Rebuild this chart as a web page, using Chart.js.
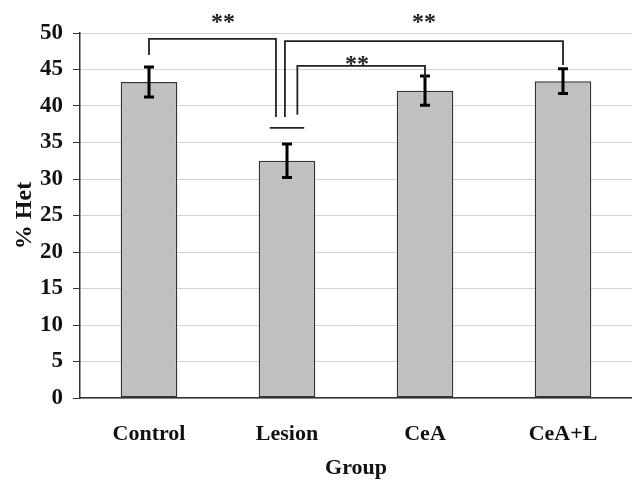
<!DOCTYPE html>
<html>
<head>
<meta charset="utf-8">
<script src="https://cdn.jsdelivr.net/npm/chart.js@4"></script>
<style>
html,body{margin:0;padding:0;background:#fff;}
#wrap{width:632px;height:484px;position:relative;}
</style>
</head>
<body>
<div id="wrap"><canvas id="c"></canvas></div>
<script>
const categories = ["Control", "Lesion", "CeA", "CeA+L"];
const hctMeans = [43.3, 32.5, 42.1, 43.4];
const hctErrors = [2.05, 2.3, 2.0, 1.7];
const yTicks = [0, 5, 10, 15, 20, 25, 30, 35, 40, 45, 50];
const comparisons = [["Control", "Lesion", "**"], ["Lesion", "CeA+L", "**"], ["Lesion", "CeA", "**"]];

const SERIF = '"Liberation Serif", "Times New Roman", serif';

const overlay = {
  id: 'overlay',
  afterDatasetsDraw(chart) {
    const ctx = chart.ctx;
    const xs = chart.scales.x, ys = chart.scales.y;
    const cw = xs.getPixelForValue(1) - xs.getPixelForValue(0);
    const X = (cat, off) => xs.getPixelForValue(categories.indexOf(cat)) + off * cw;
    const Y = v => ys.getPixelForValue(v);
    ctx.save();
    // error bars
    ctx.strokeStyle = '#000';
    ctx.lineWidth = 3;
    hctMeans.forEach((m, i) => {
      const x = xs.getPixelForValue(i);
      const t = Y(m + hctErrors[i]), b = Y(m - hctErrors[i]);
      ctx.beginPath();
      ctx.moveTo(x, t); ctx.lineTo(x, b);
      ctx.moveTo(x - 5, t); ctx.lineTo(x + 5, t);
      ctx.moveTo(x - 5, b); ctx.lineTo(x + 5, b);
      ctx.stroke();
    });
    // brackets
    ctx.lineWidth = 1.8;
    ctx.strokeStyle = '#222';
    const geo = [
      {lx: 0, ly: 47.0, rx: -0.08, ry: 38.5, h: 49.2, sx: 223, sv: 52.1},
      {lx: -0.015, ly: 38.5, rx: 0, ry: 45.6, h: 48.9, sx: 424, sv: 52.1},
      {lx: 0.075, ly: 38.8, rx: 0, ry: 43.8, h: 45.5, sx: 357, sv: 46.3}
    ];
    comparisons.forEach((c, k) => {
      const g = geo[k];
      const x1 = X(c[0], g.lx), x2 = X(c[1], g.rx);
      ctx.beginPath();
      ctx.moveTo(x1, Y(g.ly)); ctx.lineTo(x1, Y(g.h));
      ctx.lineTo(x2, Y(g.h)); ctx.lineTo(x2, Y(g.ry));
      ctx.stroke();
      ctx.fillStyle = '#222';
      ctx.font = 'bold 24px ' + SERIF;
      ctx.textAlign = 'center';
      ctx.textBaseline = 'middle';
      ctx.fillText(c[2], g.sx, Y(g.sv) + 5);
    });
    // short horizontal line above Lesion
    ctx.beginPath();
    ctx.moveTo(X("Lesion", -0.125), Y(37.0));
    ctx.lineTo(X("Lesion", 0.125), Y(37.0));
    ctx.stroke();
    ctx.restore();
  }
};

new Chart(document.getElementById('c'), {
  type: 'bar',
  data: {
    labels: categories,
    datasets: [{
      data: hctMeans,
      backgroundColor: '#c0c0c0',
      borderColor: '#333',
      borderWidth: 1.5,
      borderSkipped: false,
      categoryPercentage: 1,
      barPercentage: 0.41
    }]
  },
  options: {
    responsive: true,
    maintainAspectRatio: false,
    animation: false,
    devicePixelRatio: 1,
    layout: {padding: {top: 33, right: 0, left: 0, bottom: 0}},
    plugins: {legend: {display: false}, tooltip: {enabled: false}},
    scales: {
      x: {
        grid: {display: false, drawTicks: false},
        border: {display: true, color: '#333', width: 1.5},
        ticks: {color: '#111', padding: 23, font: {family: SERIF, size: 22, weight: 'bold'}},
        title: {display: true, text: 'Group', color: '#111', padding: {top: 10, bottom: 2}, font: {family: SERIF, size: 22, weight: 'bold'}},
        afterFit(s) { s.height = 86; }
      },
      y: {
        min: 0, max: 50,
        afterBuildTicks(s) { s.ticks = yTicks.map(v => ({value: v})); },
        grid: {color: '#d2d2d2', borderDash: [1, 2], tickColor: '#333', tickBorderDash: [], tickLength: 7, drawTicks: true, lineWidth: 1},
        border: {display: true, color: '#333', width: 1.5},
        ticks: {color: '#111', padding: 10, font: {family: SERIF, size: 23, weight: 'bold'}},
        title: {display: true, text: '% Het', color: '#111', padding: {top: 10, bottom: 0}, font: {family: SERIF, size: 24, weight: 'bold'}},
        afterFit(s) { s.width = 80; }
      }
    }
  },
  plugins: [overlay]
});
</script>
</body>
</html>
